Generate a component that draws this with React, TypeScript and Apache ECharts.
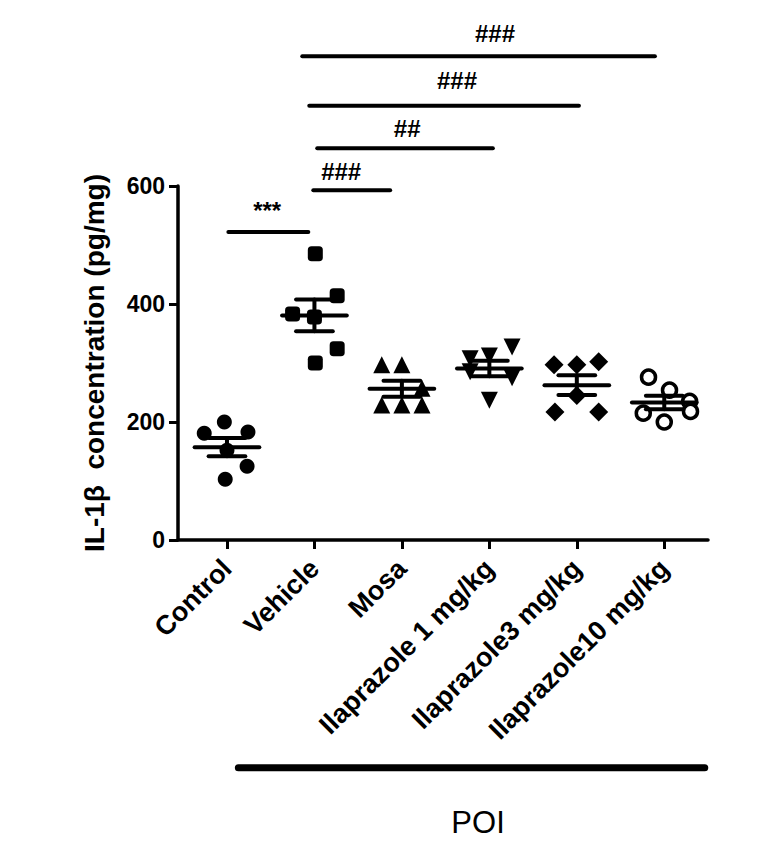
import React, { useEffect, useRef } from "react";
import * as echarts from "echarts";

const categories = [
  "Control",
  "Vehicle",
  "Mosa",
  "Ilaprazole 1 mg/kg",
  "Ilaprazole3 mg/kg",
  "Ilaprazole10 mg/kg",
];
const yTicks = [0, 200, 400, 600];

// IL-1β values (pg/mg)
const controlValues = [200, 181, 183, 125, 103, 152];
const vehicleValues = [485, 414, 383, 378, 324, 300];
const mosaValues = [297, 297, 257, 229, 229, 229];
const ilap1Values = [327, 312, 307, 285, 275, 237];
const ilap3Values = [297, 297, 302, 245, 217, 217];
const ilap10Values = [276, 254, 235, 218, 215, 200];

// horizontal scatter of each point around its category (category units)
const controlJitter = [-0.03, -0.26, 0.24, 0.23, -0.02, 0];
const vehicleJitter = [0.01, 0.26, -0.25, 0, 0.26, 0.01];
const mosaJitter = [-0.23, 0, 0.23, -0.23, 0, 0.23];
const ilap1Jitter = [0.26, 0, -0.22, -0.22, 0.26, 0];
const ilap3Jitter = [-0.26, 0, 0.25, 0, -0.25, 0.25];
const ilap10Jitter = [-0.18, 0.06, 0.29, 0.3, -0.24, 0];

// significance brackets: [x start, x end, line value, text x, text value]
const bracketLabels = ["***", "###", "##", "###", "###"];
const bracketLines = [
  [0.016, 0.93, 522, 0.46, 558],
  [0.987, 1.866, 593, 1.306, 625],
  [1.032, 3.04, 664, 2.06, 697],
  [0.941, 4.024, 736, 2.63, 778],
  [0.861, 4.893, 820, 3.065, 859],
];
const groupLabel = "POI";
const groupLine = [0.13, 5.463, -386, 2.871, -478];

const FONT = 'Arial, "Liberation Sans", Helvetica, sans-serif';

function meanSem(v: number[]) {
  const n = v.length;
  const m = v.reduce((a, b) => a + b, 0) / n;
  const sd = Math.sqrt(v.reduce((a, b) => a + (b - m) * (b - m), 0) / (n - 1));
  return [m, sd / Math.sqrt(n)];
}

export default function App() {
  const ref = useRef<HTMLDivElement>(null);
  useEffect(() => {
    if (!ref.current) return;
    const chart = echarts.init(ref.current, undefined, { renderer: "svg" });
    const groups = [
      { v: controlValues, j: controlJitter, symbol: "circle", size: 15, rot: 0, fill: "#000", bw: 0 },
      { v: vehicleValues, j: vehicleJitter, symbol: "roundRect", size: 15, rot: 0, fill: "#000", bw: 0 },
      { v: mosaValues, j: mosaJitter, symbol: "triangle", size: 17, rot: 0, fill: "#000", bw: 0 },
      { v: ilap1Values, j: ilap1Jitter, symbol: "triangle", size: 17, rot: 180, fill: "#000", bw: 0 },
      { v: ilap3Values, j: ilap3Jitter, symbol: "diamond", size: 19, rot: 0, fill: "#000", bw: 0 },
      { v: ilap10Values, j: ilap10Jitter, symbol: "circle", size: 14, rot: 0, fill: "#fff", bw: 3.5 },
    ];
    const scatterSeries = groups.map((g, gi) => ({
      type: "scatter",
      name: categories[gi],
      symbol: g.symbol,
      symbolSize: g.size,
      symbolRotate: g.rot,
      itemStyle: { color: g.fill, borderColor: "#000", borderWidth: g.bw, opacity: 1 },
      data: g.v.map((y, i) => [gi + g.j[i], y]),
      z: 2,
    }));
    const stats = groups.map((g, gi) => {
      const [m, s] = meanSem(g.v);
      return [gi, m, s];
    });

    const option: any = {
      animation: false,
      backgroundColor: "#fff",
      grid: { left: 178, right: 53, top: 186, bottom: 319, containLabel: false },
      xAxis: {
        type: "value",
        min: -0.56,
        max: 5.5,
        splitLine: { show: false },
        axisLine: { show: true, onZero: false, lineStyle: { color: "#000", width: 3.5 } },
        axisTick: {
          show: true,
          customValues: categories.map((_, i) => i),
          length: 9,
          lineStyle: { color: "#000", width: 3 },
        },
        axisLabel: {
          customValues: categories.map((_, i) => i),
          formatter: (v: number) => categories[Math.round(v)],
          rotate: 45,
          margin: 24,
          color: "#000",
          fontFamily: FONT,
          fontWeight: "bold",
          fontSize: 27,
        },
      },
      yAxis: {
        type: "value",
        min: 0,
        max: 600,
        interval: 200,
        splitLine: { show: false },
        axisLine: { show: true, onZero: false, lineStyle: { color: "#000", width: 3.5 } },
        axisTick: { show: true, length: 9, lineStyle: { color: "#000", width: 3 } },
        axisLabel: {
          margin: 13,
          color: "#000",
          fontFamily: FONT,
          fontWeight: "bold",
          fontSize: 23,
          formatter: (v: number) => (yTicks.includes(v) ? String(v) : ""),
        },
        name: "IL-1β  concentration (pg/mg)",
        nameLocation: "middle",
        nameGap: 70,
        nameTextStyle: { color: "#000", fontFamily: FONT, fontWeight: "bold", fontSize: 28 },
      },
      series: [
        ...scatterSeries,
        {
          type: "custom",
          name: "mean ± SEM",
          clip: false,
          z: 5,
          data: stats,
          renderItem: (params: any, api: any) => {
            const i = api.value(0);
            const m = api.value(1);
            const s = api.value(2);
            const style = { stroke: "#000", lineWidth: 4, lineCap: "round" };
            const L = (x1: number, y1: number, x2: number, y2: number) => {
              const a = api.coord([x1, y1]);
              const b = api.coord([x2, y2]);
              return { type: "line", shape: { x1: a[0], y1: a[1], x2: b[0], y2: b[1] }, style };
            };
            return {
              type: "group",
              children: [
                L(i - 0.37, m, i + 0.37, m),
                L(i, m - s, i, m + s),
                L(i - 0.21, m + s, i + 0.21, m + s),
                L(i - 0.21, m - s, i + 0.21, m - s),
              ],
            };
          },
        },
        {
          type: "custom",
          name: "significance",
          clip: false,
          z: 5,
          data: [...bracketLines, groupLine],
          renderItem: (params: any, api: any) => {
            const idx = params.dataIndex;
            const isGroup = idx === bracketLines.length;
            const a = api.coord([api.value(0), api.value(2)]);
            const b = api.coord([api.value(1), api.value(2)]);
            const t = api.coord([api.value(3), api.value(4)]);
            return {
              type: "group",
              children: [
                {
                  type: "line",
                  shape: { x1: a[0], y1: a[1], x2: b[0], y2: b[1] },
                  style: { stroke: "#000", lineWidth: isGroup ? 7 : 4, lineCap: "round" },
                },
                {
                  type: "text",
                  style: {
                    text: isGroup ? groupLabel : bracketLabels[idx],
                    x: t[0],
                    y: t[1],
                    align: "center",
                    verticalAlign: "middle",
                    fill: "#000",
                    fontFamily: FONT,
                    fontWeight: isGroup ? "normal" : "bold",
                    fontSize: isGroup ? 31 : 24,
                  },
                },
              ],
            };
          },
        },
      ],
    };
    chart.setOption(option);
    return () => chart.dispose();
  }, []);
  return (
    <div
      ref={ref}
      style={{ position: "absolute", left: 0, top: 0, width: 761, height: 859, background: "#fff" }}
    />
  );
}
